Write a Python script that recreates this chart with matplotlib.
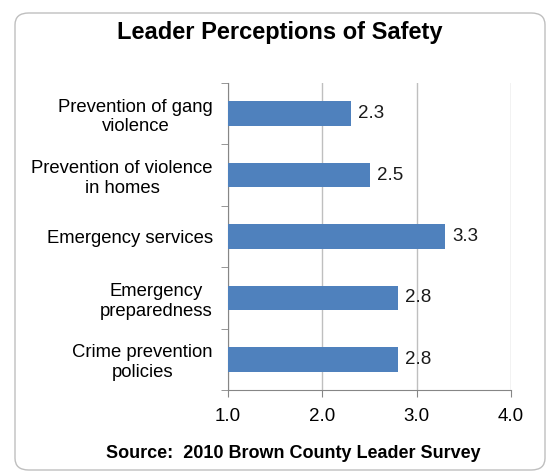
import numpy as np
import matplotlib.pyplot as plt
from matplotlib.patches import FancyBboxPatch
from matplotlib.ticker import FixedLocator

plt.rcParams['font.family'] = ['Liberation Sans', 'DejaVu Sans']

# Survey items (top to bottom) and mean scores
categories = ['Prevention of gang\nviolence', 'Prevention of violence\nin homes',
              'Emergency services', 'Emergency\npreparedness', 'Crime prevention\npolicies']
scores = [2.3, 2.5, 3.3, 2.8, 2.8]
score_labels = ['2.3', '2.5', '3.3', '2.8', '2.8']
x_ticks = [1.0, 2.0, 3.0, 4.0]
x_tick_labels = ['1.0', '2.0', '3.0', '4.0']

fig = plt.figure(figsize=(5.49, 4.72), dpi=100)

# Rounded border around the whole chart
border = FancyBboxPatch((15 / 549, 2 / 472), 530 / 549, 457 / 472,
                        boxstyle='round,pad=0,rounding_size=0.025',
                        transform=fig.transFigure, facecolor='white',
                        edgecolor='#BFBFBF', linewidth=1.0, zorder=-1)
fig.patches.append(border)

ax = fig.add_axes([228 / 549, 1 - 390 / 472, 283 / 549, 307 / 472])
ax.set_facecolor('none')
ax.set_zorder(2)

pos = np.arange(len(categories))
xmin = x_ticks[0]
ax.barh(pos, np.array(scores) - xmin, left=xmin, height=0.4, color='#4F81BD', zorder=3)

for p, s, lab in zip(pos, scores, score_labels):
    ax.text(s + 0.075, p, lab, va='center', ha='left', fontsize=13.5, color='#1A1A1A', zorder=4)

ax.set_xlim(1, 4)
ax.set_ylim(len(categories) - 0.5, -0.5)
ax.set_xticks(x_ticks)
ax.set_xticklabels(x_tick_labels, fontsize=13.5)
ax.set_yticks(pos)
ax.set_yticklabels(categories, fontsize=13.3, multialignment='center', linespacing=1.2)
ax.yaxis.set_minor_locator(FixedLocator(np.arange(-0.5, len(categories), 1)))
ax.tick_params(axis='y', which='major', length=0, pad=11)
ax.tick_params(axis='y', which='minor', length=5, color='#868686', direction='out')
ax.tick_params(axis='x', length=5, color='#868686', direction='out', pad=8)

ax.grid(axis='x', color='#BFBFBF', linewidth=1.0, zorder=0)
for side in ['top', 'right']:
    ax.spines[side].set_visible(False)
for side in ['left', 'bottom']:
    ax.spines[side].set_color('#868686')

fig.text(280 / 549, 1 - 32 / 472, 'Leader Perceptions of Safety', ha='center', va='center',
         fontsize=17, fontweight='bold')
fig.text(293 / 549, 1 - 453 / 472, 'Source:  2010 Brown County Leader Survey', ha='center',
         va='center', fontsize=13, fontweight='bold')

plt.savefig('out.png', dpi=100)
